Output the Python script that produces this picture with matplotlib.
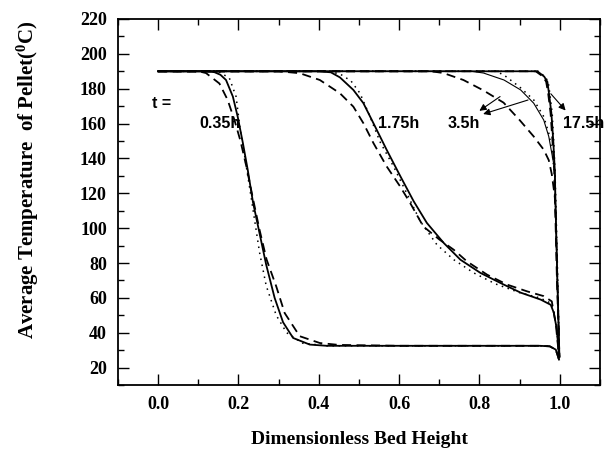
import matplotlib
matplotlib.use('Agg')
import matplotlib.pyplot as plt
from matplotlib.ticker import MultipleLocator

# pellet temperature profiles along the bed, three models per time
x_035_solid = [0, 0.12, 0.14, 0.155, 0.169, 0.186, 0.198, 0.211, 0.223, 0.236, 0.2525, 0.269, 0.29, 0.311, 0.336, 0.3775, 0.42, 0.6, 0.8, 0.95, 0.975, 0.99, 0.998]
y_035_solid = [190, 190, 189.5, 188, 185, 175.5, 164, 148.8, 133.5, 115, 97, 79, 60, 46, 37, 33.2, 32.5, 32.5, 32.5, 32.5, 32.2, 30.3, 24.6]
x_035_dash = [0, 0.10, 0.119, 0.1525, 0.173, 0.19, 0.205, 0.22, 0.236, 0.2525, 0.27, 0.294, 0.315, 0.3525, 0.4025, 0.45, 0.6, 0.8, 0.95, 0.975, 0.99, 0.998]
y_035_dash = [190, 190, 189, 183, 173.6, 162, 150, 135, 117, 99, 82, 66.6, 51.3, 38, 34.1, 33, 32.5, 32.5, 32.5, 32.2, 30.3, 24.6]
x_035_dot = [0, 0.15, 0.1775, 0.194, 0.204, 0.215, 0.232, 0.2525, 0.269, 0.294, 0.32, 0.36, 0.42, 0.6, 0.8, 0.95, 0.975, 0.99, 0.998]
y_035_dot = [190, 190, 186, 175.5, 157, 142, 117, 86, 67, 50, 40, 34, 32.5, 32.5, 32.5, 32.5, 32.2, 30.3, 24.6]

x_175_solid = [0, 0.40, 0.43, 0.4525, 0.486, 0.511, 0.536, 0.569, 0.6025, 0.636, 0.669, 0.711, 0.7525, 0.8025, 0.8525, 0.9025, 0.9525, 0.9775, 0.985, 0.9925, 0.998]
y_175_solid = [190, 190, 189.4, 186.5, 179.3, 171.7, 160.2, 144.9, 130, 115.5, 103, 91.5, 81.9, 74.3, 68.5, 63, 59, 56, 51.5, 42, 26.5]
x_175_dash = [0, 0.30, 0.3525, 0.4025, 0.4525, 0.486, 0.511, 0.536, 0.569, 0.6025, 0.6275, 0.66, 0.70, 0.736, 0.769, 0.819, 0.869, 0.919, 0.96, 0.98, 0.99, 0.998]
y_175_dash = [190, 190, 188.9, 185, 177.4, 169.7, 160.2, 148.8, 135.4, 123.9, 114.4, 101, 93.5, 87.6, 80.9, 73.3, 67.6, 63.7, 61, 58, 45, 26.5]
x_175_dot = [0, 0.42, 0.4525, 0.48, 0.5025, 0.5275, 0.5525, 0.586, 0.619, 0.6525, 0.694, 0.736, 0.786, 0.84, 0.90, 0.95, 0.9775, 0.985, 0.9925, 0.998]
y_175_dot = [190, 190, 188.5, 184.5, 177.4, 164, 149.5, 135.4, 120, 104, 90.5, 81.9, 74.3, 68, 63, 60, 57, 52, 42, 26.5]

x_35_solid = [0, 0.78, 0.81, 0.861, 0.9025, 0.935, 0.96, 0.9725, 0.98, 0.9875, 0.99, 0.994, 0.999]
y_35_solid = [190, 190, 189, 185, 179.3, 171.7, 162, 152.6, 143, 133.5, 107, 69, 26]
x_35_dash = [0, 0.68, 0.71, 0.76, 0.81, 0.86, 0.90, 0.935, 0.96, 0.9725, 0.98, 0.9875, 0.99, 0.994, 0.999]
y_35_dash = [190, 190, 189, 185, 179, 172, 162, 152.6, 145, 139, 131, 118, 107, 69, 26]
x_35_dot = [0, 0.84, 0.86, 0.90, 0.935, 0.96, 0.9725, 0.98, 0.9875, 0.99, 0.994, 0.999]
y_35_dot = [190, 190, 188, 181, 173.6, 164, 154.5, 145, 130, 107, 69, 26]

x_175h_solid = [0, 0.944, 0.961, 0.969, 0.973, 0.979, 0.984, 0.9875, 0.99, 0.994, 0.999]
x_175h_dash = [0, 0.94, 0.958, 0.966, 0.971, 0.977, 0.982, 0.986, 0.989, 0.993, 0.999]
x_175h_dot = [0, 0.946, 0.963, 0.971, 0.975, 0.981, 0.985, 0.988, 0.991, 0.995, 0.999]
y_175h = [190, 190, 187, 184, 177.4, 166, 149, 133, 107, 69, 26]

time_labels = ['0.35h', '1.75h', '3.5h', '17.5h']
label_x = [0.1025, 0.5475, 0.72, 1.0075]
label_y = 159.8

plt.rcParams['mathtext.fontset'] = 'custom'
plt.rcParams['mathtext.rm'] = 'Liberation Serif:bold'
plt.rcParams['mathtext.it'] = 'Liberation Serif:bold'

fig = plt.figure(figsize=(6.05, 4.5), dpi=100)
ax = fig.add_axes([0.195, 0.1444, 0.7967, 0.8134])

solid = dict(color='black', lw=1.3, ls='-')
dash = dict(color='black', lw=1.3, ls=(0, (5, 3)))
dot = dict(color='black', lw=1.1, ls=(0, (1, 3)))

ax.plot(x_035_solid, y_035_solid, **solid)
ax.plot(x_035_dash, y_035_dash, **dash)
ax.plot(x_035_dot, y_035_dot, **dot)
ax.plot(x_175_solid, y_175_solid, **solid)
ax.plot(x_175_dash, y_175_dash, **dash)
ax.plot(x_175_dot, y_175_dot, **dot)
ax.plot(x_35_solid, y_35_solid, color='black', lw=0.8)
ax.plot(x_35_dash, y_35_dash, **dash)
ax.plot(x_35_dot, y_35_dot, **dot)
ax.plot(x_175h_solid, y_175h, **solid)
ax.plot(x_175h_dash, y_175h, **dash)
ax.plot(x_175h_dot, y_175h, **dot)

ax.set_xlim(-0.1, 1.1)
ax.set_ylim(10, 220)
ax.xaxis.set_major_locator(MultipleLocator(0.2))
ax.xaxis.set_minor_locator(MultipleLocator(0.1))
ax.yaxis.set_major_locator(MultipleLocator(20))
ax.yaxis.set_minor_locator(MultipleLocator(10))
ax.set_yticks(range(20, 221, 20))
ax.tick_params(which='both', direction='in', top=True, right=True, width=1.0)
ax.tick_params(which='major', length=8, pad=8)
ax.tick_params(which='minor', length=4)
for sp in ax.spines.values():
    sp.set_linewidth(1.3)

tick_font = dict(family='Liberation Serif', weight='bold', size=13)
ax.set_xticklabels([f'{v:.1f}' for v in ax.get_xticks()], fontdict=tick_font)
ax.set_yticklabels([str(v) for v in range(20, 221, 20)], fontdict=tick_font)

ax.set_xlabel('Dimensionless Bed Height', family='Liberation Serif', weight='bold', size=14, labelpad=13)
ax.set_ylabel(r'Average Temperature  of Pellet($^0$C)', family='Liberation Serif', weight='bold', size=15)
ax.yaxis.set_label_coords(-0.16, 0.56)

lab_font = dict(family='Liberation Sans', weight='bold', size=11.5)
ax.text(-0.015, 171.3, 't =', va='center', ha='left', **lab_font)
for lx, lt in zip(label_x, time_labels):
    ax.text(lx, label_y, lt, va='center', ha='left', clip_on=False, **lab_font)

arrow = dict(arrowstyle='-|>', color='black', lw=0.8, mutation_scale=10)
ax.annotate('', xy=(0.794, 166.4), xytext=(0.857, 176.4), arrowprops=arrow)
ax.annotate('', xy=(0.8025, 165), xytext=(0.9275, 174), arrowprops=arrow)
ax.annotate('', xy=(1.019, 166.3), xytext=(0.973, 178.3), arrowprops=arrow, annotation_clip=False)

fig.savefig('out.png', dpi=100)
